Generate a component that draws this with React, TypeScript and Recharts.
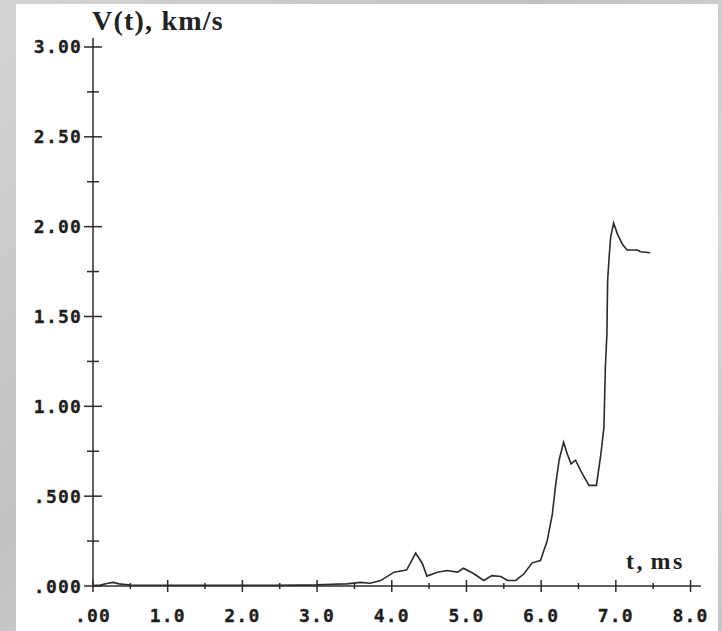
import React from 'react';
import { LineChart, Line, XAxis, YAxis } from 'recharts';

// time (ms) and velocity (km/s)
const times = [
  0, 0.1, 0.2, 0.27, 0.35, 0.5, 0.8, 1.2, 1.6, 2.0, 2.4, 2.8, 3.0, 3.2, 3.4, 3.58, 3.71, 3.85,
  4.03, 4.16, 4.2, 4.32, 4.41, 4.47, 4.61, 4.74, 4.88, 4.96, 5.1, 5.23, 5.34, 5.46, 5.55, 5.66,
  5.77, 5.88, 5.99, 6.08, 6.15, 6.19, 6.24, 6.3, 6.35, 6.4, 6.46, 6.55, 6.64, 6.74, 6.8, 6.84,
  6.86, 6.88, 6.89, 6.91, 6.93, 6.97, 7.02, 7.09, 7.15, 7.29, 7.33, 7.46,
];
const velocity = [
  0.003, 0.005, 0.015, 0.02, 0.012, 0.005, 0.004, 0.004, 0.004, 0.004, 0.004, 0.005, 0.006, 0.01,
  0.012, 0.02, 0.015, 0.03, 0.077, 0.086, 0.09, 0.183, 0.124, 0.055, 0.077, 0.086, 0.077, 0.099,
  0.068, 0.031, 0.058, 0.053, 0.031, 0.031, 0.068, 0.129, 0.142, 0.25, 0.4, 0.55, 0.7, 0.8, 0.735,
  0.68, 0.7, 0.625, 0.56, 0.56, 0.735, 0.88, 1.22, 1.4, 1.7, 1.83, 1.94, 2.02, 1.96, 1.9, 1.87,
  1.87, 1.86, 1.855,
];

const xTicks = [0, 0.5, 1, 1.5, 2, 2.5, 3, 3.5, 4, 4.5, 5, 5.5, 6, 6.5, 7, 7.5, 8];
const xLabels = ['.00', '1.0', '2.0', '3.0', '4.0', '5.0', '6.0', '7.0', '8.0'];
const yTicks = [0, 0.25, 0.5, 0.75, 1, 1.25, 1.5, 1.75, 2, 2.25, 2.5, 2.75, 3];
const yLabels = ['.000', '.500', '1.00', '1.50', '2.00', '2.50', '3.00'];

const data = times.map((t, i) => ({ t, v: velocity[i] }));

const axisColor = '#2b2b2b';
const tickFont = {
  fontFamily: '"DejaVu Sans Mono", monospace',
  fontWeight: 700,
  fontSize: 18,
  letterSpacing: 1.2,
  fill: '#1e1e1e',
  stroke: '#1e1e1e',
  strokeWidth: 0.3,
};

const XTick = (props: any) => {
  const { x, y, payload } = props;
  const val = payload.value;
  const major = Math.abs(val - Math.round(val)) < 1e-6;
  const h = major ? 6 : 3;
  return (
    <g>
      <line x1={x} x2={x} y1={y - h} y2={y + h} stroke={axisColor} strokeWidth={1.5} />
      {major && (
        <text x={x} y={y + 29} textAnchor="middle" dominantBaseline="central" {...tickFont}>
          {xLabels[Math.round(val)]}
        </text>
      )}
    </g>
  );
};

const YTick = (props: any) => {
  const { x, y, payload } = props;
  const val = payload.value;
  const idx = Math.round(val * 2);
  const major = Math.abs(val * 2 - idx) < 1e-6;
  const h = major ? 9 : 6;
  return (
    <g>
      <line x1={x - h} x2={x + h} y1={y} y2={y} stroke={axisColor} strokeWidth={1.5} />
      {major && (
        <text x={x - 11} y={y} textAnchor="end" dominantBaseline="central" {...tickFont}>
          {yLabels[idx]}
        </text>
      )}
    </g>
  );
};

export default function App() {
  return (
    <div
      style={{
        position: 'absolute',
        left: 0,
        top: 0,
        width: 722,
        height: 631,
        background: 'linear-gradient(135deg, #d4d4d4 0%, #c2c2c2 40%, #d8d8d8 70%, #c6c6c6 100%)',
        overflow: 'hidden',
      }}
    >
      <div
        style={{ position: 'absolute', left: 16, top: 4, width: 702, height: 627, background: '#fff' }}
      />
      <div
        style={{
          position: 'absolute',
          left: 92,
          top: 4,
          fontFamily: '"Liberation Serif", serif',
          fontWeight: 700,
          fontSize: 28,
          letterSpacing: 1.2,
          color: '#222',
          lineHeight: '34px',
          whiteSpace: 'nowrap',
        }}
      >
        V(t), km/s
      </div>
      <div
        style={{
          position: 'absolute',
          left: 626,
          top: 547,
          fontFamily: '"Liberation Serif", serif',
          fontWeight: 700,
          fontSize: 24,
          letterSpacing: 2.5,
          wordSpacing: -3,
          color: '#222',
          lineHeight: '28px',
          whiteSpace: 'nowrap',
        }}
      >
        t, ms
      </div>
      <div style={{ position: 'absolute', left: 0, top: 0 }}>
        <LineChart width={722} height={631} data={data} margin={{ top: 38, right: 21, bottom: 0, left: 0 }}>
          <XAxis
            type="number"
            dataKey="t"
            domain={[0, 8.14]}
            ticks={xTicks}
            interval={0}
            tickSize={0}
            tickMargin={0}
            tickLine={false}
            height={45}
            axisLine={{ stroke: axisColor, strokeWidth: 1.5 }}
            tick={(p: any) => <XTick {...p} />}
          />
          <YAxis
            type="number"
            domain={[0, 3.05]}
            ticks={yTicks}
            interval={0}
            tickSize={0}
            tickMargin={0}
            tickLine={false}
            width={93}
            axisLine={{ stroke: axisColor, strokeWidth: 1.5 }}
            tick={(p: any) => <YTick {...p} />}
          />
          <Line
            type="linear"
            dataKey="v"
            stroke="#2a2a2a"
            strokeWidth={1.6}
            dot={false}
            isAnimationActive={false}
          />
        </LineChart>
      </div>
    </div>
  );
}
